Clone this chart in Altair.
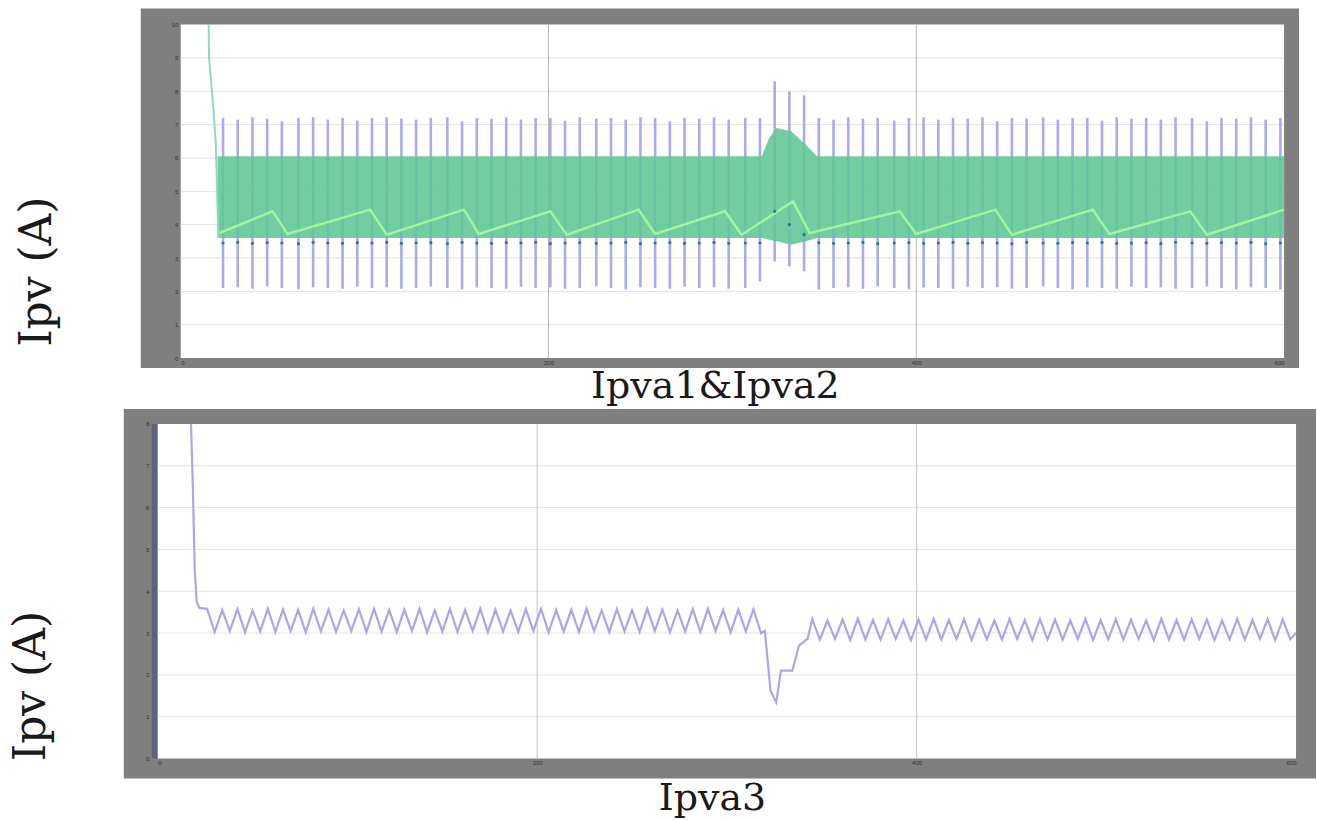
import altair as alt
import pandas as pd

# ---------------- data ----------------
X_TICKS = [0, 200, 400, 600]
X_GRID = [200, 400]
TOP_Y_TICKS = [0, 1, 2, 3, 4, 5, 6, 7, 8, 9, 10]
TOP_Y_GRID = [1, 2, 3, 4, 5, 6, 7, 8, 9]
BOT_Y_TICKS = [0, 1, 2, 3, 4, 5, 6, 7, 8]
BOT_Y_GRID = [1, 2, 3, 4, 5, 6, 7]

# Ipva1 spikes (time, top, bottom)
ipva1_t = [23, 31, 39, 47, 55, 64, 72, 80, 88, 96, 104, 112,
           120, 128, 136, 145, 153, 161, 169, 177, 185, 193, 201, 209,
           217, 226, 234, 242, 250, 258, 266, 274, 282, 290, 298, 307,
           315, 323, 331, 339, 347, 355, 363, 371, 379, 388, 396, 404,
           412, 420, 428, 436, 444, 452, 460, 469, 477, 485, 493, 501,
           509, 517, 525, 533, 541, 550, 558, 566, 574, 582, 590, 598]
ipva1_hi = [7.20, 7.15, 7.22, 7.18, 7.10, 7.20, 7.22, 7.15, 7.20, 7.12, 7.20, 7.22,
            7.18, 7.15, 7.20, 7.22, 7.10, 7.20, 7.18, 7.22, 7.15, 7.20, 7.20, 7.12,
            7.22, 7.18, 7.20, 7.15, 7.22, 7.20, 7.10, 7.20, 7.18, 7.22, 7.15, 7.20,
            7.20, 8.30, 8.00, 7.88, 7.20, 7.15, 7.22, 7.18, 7.20, 7.12, 7.20, 7.22,
            7.15, 7.20, 7.18, 7.22, 7.10, 7.20, 7.18, 7.22, 7.15, 7.20, 7.20, 7.12,
            7.22, 7.18, 7.20, 7.15, 7.22, 7.20, 7.10, 7.20, 7.18, 7.22, 7.15, 7.20]
ipva1_lo = [2.10, 2.12, 2.08, 2.15, 2.10, 2.06, 2.12, 2.10, 2.08, 2.14, 2.10, 2.12,
            2.08, 2.10, 2.15, 2.10, 2.06, 2.12, 2.10, 2.08, 2.14, 2.10, 2.12, 2.08,
            2.10, 2.15, 2.10, 2.06, 2.12, 2.10, 2.08, 2.14, 2.10, 2.12, 2.08, 2.10,
            2.30, 2.90, 2.75, 2.60, 2.05, 2.10, 2.12, 2.08, 2.15, 2.10, 2.06, 2.12,
            2.10, 2.08, 2.14, 2.10, 2.12, 2.08, 2.10, 2.15, 2.10, 2.06, 2.12, 2.10,
            2.08, 2.14, 2.10, 2.12, 2.08, 2.10, 2.15, 2.10, 2.06, 2.12, 2.10, 2.05]
# Ipva2 minima (dark dots on lower edge of the band)
ipva2_min = [3.45, 3.47, 3.44, 3.46, 3.45, 3.43, 3.47, 3.45, 3.44, 3.46, 3.45, 3.47,
             3.44, 3.45, 3.46, 3.43, 3.47, 3.45, 3.44, 3.46, 3.45, 3.47, 3.43, 3.45,
             3.46, 3.44, 3.45, 3.47, 3.43, 3.45, 3.46, 3.44, 3.45, 3.47, 3.44, 3.45,
             3.45, 4.40, 4.00, 3.70, 3.46, 3.44, 3.45, 3.47, 3.43, 3.45, 3.46, 3.44,
             3.45, 3.47, 3.44, 3.46, 3.45, 3.43, 3.47, 3.45, 3.44, 3.46, 3.45, 3.47,
             3.44, 3.45, 3.46, 3.43, 3.47, 3.45, 3.44, 3.46, 3.45, 3.47, 3.43, 3.45]
# Ipva2 ripple band envelope
band_t = [20, 316, 320, 324, 332, 340, 346, 600]
band_hi = [6.05, 6.05, 6.60, 6.90, 6.80, 6.40, 6.05, 6.05]
band_lo = [3.60, 3.60, 3.55, 3.50, 3.40, 3.50, 3.60, 3.60]
# slow sawtooth visible inside the band
saw_t = [21, 50, 58, 103, 112, 154, 162, 201, 210, 249, 258, 296,
         305, 333, 342, 391, 400, 443, 452, 496, 505, 549, 558, 600]
saw_v = [3.75, 4.40, 3.72, 4.45, 3.70, 4.45, 3.72, 4.40, 3.70, 4.45, 3.72, 4.40,
         3.70, 4.70, 3.75, 4.40, 3.72, 4.45, 3.70, 4.45, 3.72, 4.40, 3.70, 4.45]
# start-up transient (top panel)
start_t = [15.0, 15.4, 17.8, 19.0, 20.5]
start_v = [11.0, 9.0, 7.45, 6.5, 3.6]

# Ipva3
ipva3_spike_t = [17.0, 18.5, 19.5, 20.5, 22.0]
ipva3_spike_v = [8.8, 6.5, 4.5, 3.75, 3.6]
ipva3_pre_t = [26, 30, 34, 38, 42, 46, 50, 54, 58, 62, 66, 70, 74, 78, 82, 86, 90, 94,
               98, 102, 106, 110, 114, 118, 122, 126, 130, 134, 138, 142, 146, 150,
               154, 158, 162, 166, 170, 174, 178, 182, 186, 190, 194, 198, 202, 206,
               210, 214, 218, 222, 226, 230, 234, 238, 242, 246, 250, 254, 258, 262,
               266, 270, 274, 278, 282, 286, 290, 294, 298, 302, 306, 310, 314, 318]
ipva3_pre_v = [3.58, 3.03, 3.55, 3.05, 3.57, 3.02, 3.54, 3.04, 3.58, 3.03, 3.56, 3.05,
               3.55, 3.02, 3.58, 3.04, 3.56, 3.03, 3.54, 3.05, 3.57, 3.02, 3.58, 3.04,
               3.55, 3.03, 3.56, 3.05, 3.58, 3.02, 3.54, 3.04, 3.57, 3.03, 3.55, 3.05,
               3.58, 3.02, 3.56, 3.04, 3.54, 3.03, 3.57, 3.05, 3.58, 3.02, 3.55, 3.04,
               3.56, 3.03, 3.58, 3.05, 3.54, 3.02, 3.57, 3.04, 3.55, 3.03, 3.58, 3.05,
               3.56, 3.02, 3.54, 3.04, 3.57, 3.03, 3.58, 3.05, 3.55, 3.02, 3.56, 3.04,
               3.57, 3.00]
ipva3_dip_t = [320, 323, 326, 328.5, 334.5, 338, 342.5]
ipva3_dip_v = [3.05, 1.62, 1.34, 2.10, 2.10, 2.70, 2.86]
ipva3_post_t = [345, 349, 353, 357, 361, 365, 369, 373, 377, 381, 385, 389, 393, 397,
                401, 405, 409, 413, 417, 421, 425, 429, 433, 437, 441, 445, 449, 453,
                457, 461, 465, 469, 473, 477, 481, 485, 489, 493, 497, 501, 505, 509,
                513, 517, 521, 525, 529, 533, 537, 541, 545, 549, 553, 557, 561, 565,
                569, 573, 577, 581, 585, 589, 593, 597, 600]
ipva3_post_v = [3.33, 2.84, 3.30, 2.86, 3.32, 2.83, 3.34, 2.85, 3.31, 2.84, 3.33, 2.86,
                3.30, 2.83, 3.32, 2.85, 3.34, 2.84, 3.31, 2.86, 3.33, 2.83, 3.32, 2.85,
                3.30, 2.84, 3.34, 2.86, 3.31, 2.83, 3.33, 2.85, 3.32, 2.84, 3.30, 2.86,
                3.34, 2.83, 3.31, 2.85, 3.33, 2.84, 3.32, 2.86, 3.30, 2.83, 3.34, 2.85,
                3.31, 2.84, 3.33, 2.86, 3.32, 2.83, 3.30, 2.85, 3.34, 2.84, 3.31, 2.86,
                3.33, 2.83, 3.32, 2.85, 3.00]

# ---------------- tables ----------------
df_spk = pd.DataFrame({"t": ipva1_t, "hi": ipva1_hi, "lo": ipva1_lo, "mn": ipva2_min})
df_band = pd.DataFrame({"t": band_t, "hi": band_hi, "lo": band_lo})
df_saw = pd.DataFrame({"t": saw_t, "v": saw_v})
df_start = pd.DataFrame({"t": start_t, "v": start_v})
df_i3 = pd.DataFrame({
    "t": ipva3_spike_t + ipva3_pre_t + ipva3_dip_t + ipva3_post_t,
    "v": ipva3_spike_v + ipva3_pre_v + ipva3_dip_v + ipva3_post_v,
})
one = pd.DataFrame({"a": [0]})

FRAME = "#7f7f7f"
TITLE_FONT = "DejaVu Serif"


def x_axis(title, tx, ty):
    return alt.Axis(values=X_TICKS, title=title, titleFont=TITLE_FONT, titleFontSize=38,
                    titleFontWeight="normal", titleColor="#1a1a1a", titleX=tx, titleY=ty,
                    titleAlign="center", titleBaseline="alphabetic", labelFontSize=6,
                    labelColor="#333333", labelPadding=1, tickSize=0, domain=False,
                    grid=False, zindex=1)


def y_axis(ticks, ty, tx, offset):
    return alt.Axis(values=ticks, title="Ipv (A)", titleFont=TITLE_FONT, titleFontSize=44,
                    titleFontWeight="normal", titleColor="#1a1a1a", titleAngle=270,
                    titleX=tx, titleY=ty, titleAlign="center", titleBaseline="middle",
                    labelFontSize=6, labelColor="#333333", labelPadding=3, tickSize=0,
                    domain=False, grid=False, zindex=1, offset=offset)


# ---------------- top panel ----------------
tx_s = alt.Scale(domain=[0, 600], range=[23, 1128], nice=False, zero=False)
ty_s = alt.Scale(domain=[0, 10], nice=False, zero=False)
tX = x_axis("Ipva1&Ipva2", 558, 39)
tY = y_axis(TOP_Y_TICKS, 247, -143, -23)


def TX(f):
    return alt.X(f, type="quantitative", scale=tx_s, axis=tX)


def TY(f):
    return alt.Y(f, type="quantitative", scale=ty_s, axis=tY)


top_frame = alt.Chart(one).mark_rect(color=FRAME).encode(
    x=alt.value(-17), x2=alt.value(1143), y=alt.value(-16), y2=alt.value(344))
df_tw = pd.DataFrame({"x0": [0], "x1": [600], "y0": [0], "y1": [10]})
top_white = alt.Chart(df_tw).mark_rect(color="white").encode(
    x=TX("x0"), x2="x1", y=TY("y0"), y2="y1")
top_hg = alt.Chart(pd.DataFrame({"v": TOP_Y_GRID, "x0": 0, "x1": 600})).mark_rule(
    color="#e2e2e2", strokeWidth=1).encode(y=TY("v"), x=TX("x0"), x2="x1")
top_vg = alt.Chart(pd.DataFrame({"t": X_GRID, "y0": 0, "y1": 10})).mark_rule(
    color="#b9b9b9", strokeWidth=1).encode(x=TX("t"), y=TY("y0"), y2="y1")
top_spk = alt.Chart(df_spk).mark_rule(color="#aaaaec", strokeWidth=2.6).encode(
    x=TX("t"), y=TY("lo"), y2="hi")
top_band = alt.Chart(df_band).mark_area(color="#5fc793", opacity=0.88).encode(
    x=TX("t"), y=TY("hi"), y2="lo")
top_saw = alt.Chart(df_saw).mark_line(color="#9df59d", strokeWidth=2.5).encode(
    x=TX("t"), y=TY("v"))
top_dots = alt.Chart(df_spk).mark_point(filled=True, color="#2a6a8c", size=10,
                                        opacity=0.9).encode(x=TX("t"), y=TY("mn"))
top_start = alt.Chart(df_start).mark_line(color="#8fd8c4", strokeWidth=2, clip=True).encode(
    x=TX("t"), y=TY("v"))

top = alt.layer(top_frame, top_white, top_hg, top_vg, top_spk, top_band, top_saw,
                top_dots, top_start).properties(width=1140, height=334)

# ---------------- bottom panel ----------------
bx_s = alt.Scale(domain=[0, 600], nice=False, zero=False)
by_s = alt.Scale(domain=[0, 8], nice=False, zero=False)
bX = x_axis("Ipva3", 555, 51)
bY = y_axis(BOT_Y_TICKS, 262, -120, 6)


def BX(f):
    return alt.X(f, type="quantitative", scale=bx_s, axis=bX)


def BY(f):
    return alt.Y(f, type="quantitative", scale=by_s, axis=bY)


bot_frame = alt.Chart(one).mark_rect(color=FRAME).encode(
    x=alt.value(-34), x2=alt.value(1160), y=alt.value(-15), y2=alt.value(355))
bot_strip = alt.Chart(one).mark_rect(color="#5e6378").encode(
    x=alt.value(-6), x2=alt.value(0), y=alt.value(0), y2=alt.value(335))
df_bw = pd.DataFrame({"x0": [0], "x1": [600], "y0": [0], "y1": [8]})
bot_white = alt.Chart(df_bw).mark_rect(color="white").encode(
    x=BX("x0"), x2="x1", y=BY("y0"), y2="y1")
bot_hg = alt.Chart(pd.DataFrame({"v": BOT_Y_GRID, "x0": 0, "x1": 600})).mark_rule(
    color="#e2e2e2", strokeWidth=1).encode(y=BY("v"), x=BX("x0"), x2="x1")
bot_vg = alt.Chart(pd.DataFrame({"t": X_GRID, "y0": 0, "y1": 8})).mark_rule(
    color="#c4c4c4", strokeWidth=1).encode(x=BX("t"), y=BY("y0"), y2="y1")
bot_line = alt.Chart(df_i3).mark_line(color="#a8a8e8", strokeWidth=2.2, clip=True).encode(
    x=BX("t"), y=BY("v"))

bottom = alt.layer(bot_frame, bot_strip, bot_white, bot_hg, bot_vg, bot_line).properties(
    width=1140, height=335)

chart = alt.vconcat(top, bottom, spacing=66, bounds="flush").properties(
    padding={"left": 9, "top": 7, "right": 0, "bottom": 0}, background="white"
).configure_view(stroke="transparent")

chart.save("out.html", embed_options={"renderer": "svg", "actions": False})
